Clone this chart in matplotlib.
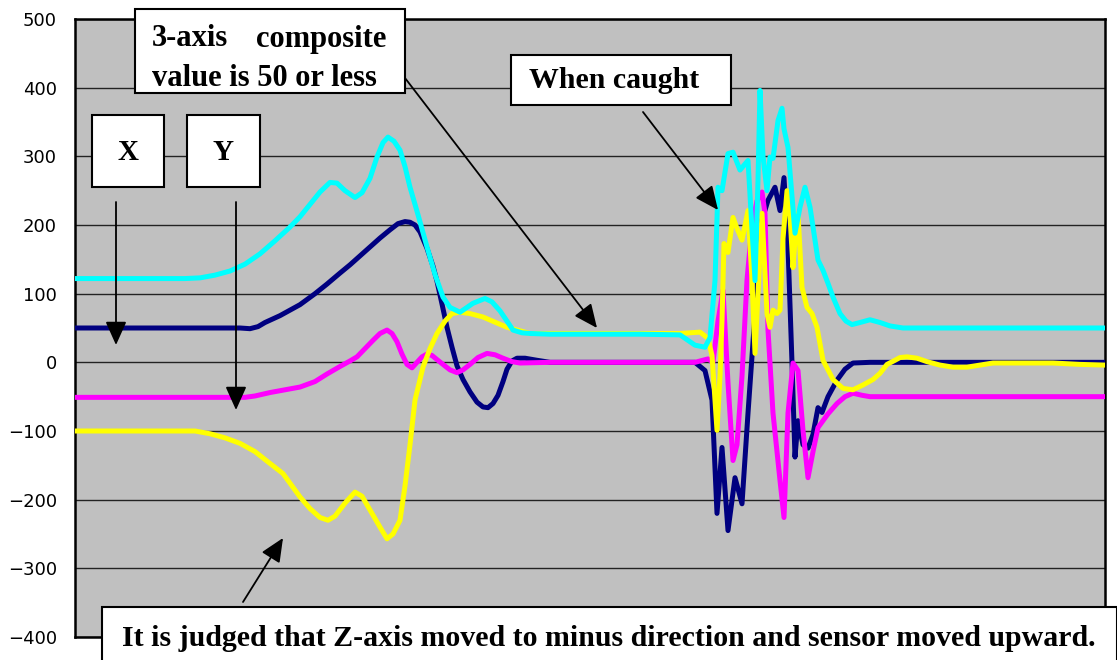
import matplotlib
matplotlib.use("Agg")
import matplotlib.pyplot as plt
from matplotlib.patches import Rectangle

# ---- data (time index) ----
x_t = [0, 165, 175, 183, 190, 205, 225, 240, 252, 265, 275, 285, 295, 305, 315, 323, 330,
       335, 340, 345, 352, 358, 362, 367, 372, 377, 382, 388, 395, 402, 408, 413, 418, 423,
       428, 432, 437, 442, 450, 462, 475,
       620, 630, 637, 642, 647, 653, 660, 667, 673,
       680, 687, 693, 700, 705, 709, 713, 717, 720, 723, 728, 733, 738, 743, 747,
       753, 762, 770, 778, 795, 1030]
x_v = [50, 50, 49, 52, 58, 68, 84, 100, 114, 130, 142, 155, 168, 181, 193, 202, 205,
       204, 200, 190, 166, 140, 118, 85, 51, 22, -5, -25, -43, -58, -65, -66, -60, -48,
       -28, -10, 2, 6, 6, 3, 0,
       0, -12, -55, -220, -124, -245, -168, -206, -74,
       71, 207, 236, 255, 221, 269, 168, -1, -138, -85, -120, -125, -105, -66, -73,
       -50, -26, -10, -1, 0, 0]

y_t = [0, 170, 180, 195, 210, 225, 240, 252, 265, 275, 282, 290, 298, 305, 312, 317, 322,
       327, 332, 337, 342, 347, 352, 357, 362, 368, 375, 382, 388, 395, 403, 412, 420, 428,
       437, 445, 475,
       620, 633, 638, 643, 648, 653, 658, 662, 667, 672, 677, 682, 687,
       690, 693, 698, 705, 709, 713, 718, 723, 728, 733, 738, 743, 753, 762, 770, 778, 787,
       795, 1030]
y_v = [-51, -51, -49, -44, -40, -36, -28, -17, -6, 2, 8, 20, 32, 42, 47, 42, 30,
       12, -3, -8, 0, 8, 12, 10, 4, -3, -11, -15, -11, -3, 7, 13, 11, 6,
       1, -1, 0,
       0, 5, 0, 60, 105, -30, -143, -120, -20, 120, 200, 235, 248,
       217, 47, -74, -172, -226, -74, -1, -12, -99, -168, -130, -95, -75, -60, -50, -45, -48,
       -50, -50]

z_t = [0, 120, 135, 150, 165, 180, 193, 208, 217, 225, 235, 245, 253, 260, 270, 280, 287,
       295, 305, 312, 318, 325, 330, 335, 340, 348, 355, 362, 370, 377, 385, 395, 408, 432,
       455, 605, 625, 633, 637, 642, 645, 647, 649, 653, 658, 662, 667,
       673, 677, 680, 683, 687, 692, 695, 698, 702, 705, 708, 712, 715, 718, 720, 723, 727,
       732, 737, 742, 748, 758, 768, 778, 788, 798, 805, 812, 820, 825, 832, 842, 852, 865,
       878, 892, 905, 918, 932, 978, 1005, 1030]
z_v = [-100, -100, -104, -110, -118, -130, -145, -162, -180, -196, -213, -226, -230, -224,
       -205, -189, -195, -215, -240, -257, -250, -230, -180, -120, -55, -7, 20, 42, 60, 71,
       73, 71, 66, 51,
       42, 42, 44, 35, 10, -99, -20, 61, 173, 160, 211, 195, 178,
       221, 120, 13, 100, 217, 71, 51, 76, 71, 76, 180, 250, 213, 138, 178, 217, 109,
       80, 71, 51, 3, -25, -38, -40, -33, -25, -16, -3, 3, 7, 8, 6, 1, -4,
       -7, -7, -4, -1, -1, -1, -3, -4]

c_t = [0, 110, 125, 140, 155, 170, 185, 200, 215, 225, 235, 245, 255, 262, 270, 280, 287,
       295, 302, 308, 313, 319, 325, 330, 335, 343, 352, 360, 368, 375, 385, 398, 410, 417,
       425, 432, 438, 447, 455, 475, 565, 605, 620, 630, 635, 640, 643, 647, 653, 658,
       665, 673, 680, 683, 685, 688, 692, 695, 698, 703, 707, 709, 713, 720, 725, 730, 735,
       743, 748, 753, 758, 765, 771, 777, 785, 795, 805, 815, 828, 1030]
c_v = [122, 122, 123, 127, 133, 143, 158, 177, 197, 212, 230, 248, 262, 261, 250, 240, 247,
       268, 299, 320, 328, 322, 309, 285, 255, 215, 168, 128, 95, 80, 73, 86, 93, 88,
       75, 60, 47, 43, 42, 41, 41, 40, 25, 22, 36, 119, 255, 250, 304, 306,
       280, 294, 119, 265, 396, 300, 250, 299, 297, 352, 370, 340, 313, 188, 226, 255, 226,
       149, 134, 115, 95, 71, 60, 55, 58, 62, 58, 53, 50, 50]

y_ticks = [-400, -300, -200, -100, 0, 100, 200, 300, 400, 500]

series = [
    (x_t, x_v, "#000080"),
    (y_t, y_v, "#FF00FF"),
    (z_t, z_v, "#FFFF00"),
    (c_t, c_v, "#00FFFF"),
]

W, H = 1117, 660
fig = plt.figure(figsize=(W / 100, H / 100), dpi=100)
fig.patch.set_facecolor("white")

ax = fig.add_axes([75 / W, 1 - 637 / H, (1105 - 75) / W, (637 - 19) / H])
ax.set_facecolor("#C0C0C0")

for t, v, col in series:
    ax.plot(t, v, color=col, lw=3.6, solid_joinstyle="round", solid_capstyle="round",
            zorder=3)

ax.set_xlim(0, 1030)
ax.set_ylim(-400, 500)
ax.set_yticks(y_ticks)
ax.set_xticks([])
ax.yaxis.grid(True, color="#222222", lw=1.0)
ax.set_axisbelow(True)
ax.tick_params(axis="y", length=0, pad=13, labelsize=13)
for lab in ax.get_yticklabels():
    lab.set_fontfamily("DejaVu Sans")
for sp in ax.spines.values():
    sp.set_color("black")
    sp.set_linewidth(1.8)


def fx(px):
    return px / W


def fy(py):
    return 1 - py / H


def box(x0, y0, x1, y1):
    r = Rectangle((fx(x0), fy(y1)), fx(x1) - fx(x0), fy(y0) - fy(y1),
                  transform=fig.transFigure, facecolor="white", edgecolor="black",
                  lw=1.5, zorder=10, clip_on=False)
    fig.add_artist(r)


def arrow(x0, y0, x1, y1):
    ax.annotate("", xy=(fx(x1), fy(y1)), xycoords="figure fraction",
                xytext=(fx(x0), fy(y0)), textcoords="figure fraction",
                arrowprops=dict(arrowstyle="-|>,head_length=1.45,head_width=0.65",
                                color="black", lw=1.3, shrinkA=0, shrinkB=0),
                zorder=9)


serif = dict(family="Liberation Serif", weight="bold", color="black", zorder=11)

# X / Y boxes
box(92, 115, 164, 187)
fig.text(fx(128), fy(153), "X", ha="center", va="center", fontsize=21, **serif)
box(187, 115, 260, 187)
fig.text(fx(223), fy(153), "Y", ha="center", va="center", fontsize=21, **serif)
arrow(116, 202, 116, 345)
arrow(236, 202, 236, 410)

# composite box
box(135, 9, 405, 93)
fig.text(fx(152), fy(39), "3-axis", ha="left", va="center", fontsize=22, **serif)
fig.text(fx(386), fy(39), "composite", ha="right", va="center", fontsize=22, **serif)
fig.text(fx(152), fy(78), "value is 50 or less", ha="left", va="center", fontsize=22, **serif)
arrow(405, 78, 597, 328)

# when caught
box(511, 55, 731, 105)
fig.text(fx(614), fy(80), "When caught", ha="center", va="center", fontsize=21.5, **serif)
arrow(643, 112, 718, 210)

# bottom
arrow(243, 602, 283, 538)
box(102, 607, 1117, 680)
fig.text(fx(609), fy(638), "It is judged that Z-axis moved to minus direction and sensor moved upward.",
         ha="center", va="center", fontsize=21.5, **serif)

fig.savefig("out.png", dpi=100)
